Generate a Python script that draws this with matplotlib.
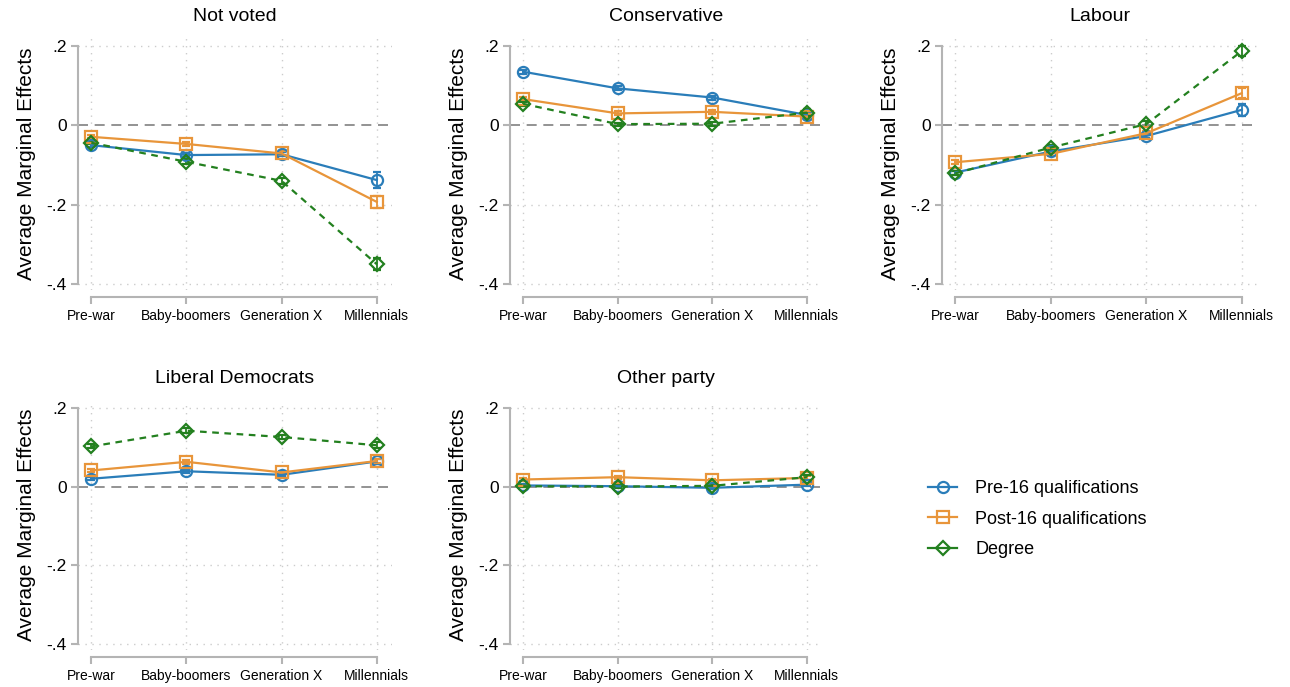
import matplotlib
matplotlib.use("Agg")
import matplotlib.pyplot as plt
from matplotlib.lines import Line2D
import numpy as np

plt.rcParams["font.family"] = ["Liberation Sans", "DejaVu Sans"]

COHORTS = ["Pre-war", "Baby-boomers", "Generation X", "Millennials"]
GROUPS = ["Pre-16 qualifications", "Post-16 qualifications", "Degree"]
PANELS = ["Not voted", "Conservative", "Labour", "Liberal Democrats", "Other party"]

# average marginal effects per panel: [pre-16, post-16, degree], each over cohorts
not_voted = [[-0.050, -0.075, -0.073, -0.138],
             [-0.029, -0.047, -0.071, -0.193],
             [-0.044, -0.092, -0.140, -0.350]]
conservative = [[0.135, 0.093, 0.070, 0.026],
                [0.066, 0.030, 0.034, 0.022],
                [0.054, 0.003, 0.004, 0.032]]
labour = [[-0.119, -0.066, -0.027, 0.039],
          [-0.093, -0.072, -0.020, 0.081],
          [-0.121, -0.056, 0.003, 0.187]]
lib_dems = [[0.020, 0.039, 0.030, 0.064],
            [0.041, 0.063, 0.036, 0.065],
            [0.102, 0.142, 0.126, 0.105]]
other_party = [[0.003, 0.001, -0.003, 0.005],
               [0.018, 0.024, 0.016, 0.022],
               [0.001, 0.000, 0.002, 0.024]]

# half-widths of the confidence intervals
not_voted_ci = [[0.005, 0.005, 0.005, 0.020],
                [0.004, 0.005, 0.005, 0.015],
                [0.004, 0.006, 0.008, 0.015]]
conservative_ci = [[0.005, 0.005, 0.005, 0.006],
                   [0.005, 0.005, 0.005, 0.006],
                   [0.005, 0.004, 0.005, 0.008]]
labour_ci = [[0.005, 0.005, 0.005, 0.015],
             [0.005, 0.005, 0.005, 0.012],
             [0.005, 0.006, 0.008, 0.012]]
lib_dems_ci = [[0.004, 0.004, 0.004, 0.006],
               [0.004, 0.005, 0.004, 0.006],
               [0.005, 0.006, 0.006, 0.008]]
other_ci = [[0.003, 0.003, 0.003, 0.004],
            [0.003, 0.004, 0.003, 0.004],
            [0.003, 0.003, 0.004, 0.006]]

panel_data = [not_voted, conservative, labour, lib_dems, other_party]
panel_ci = [not_voted_ci, conservative_ci, labour_ci, lib_dems_ci, other_ci]

COLORS = ["#2a7db9", "#e8953a", "#23801f"]
MARKERS = ["o", "s", "D"]
LSTYLES = ["-", "-", (0, (3, 2.5))]
MSIZES = [8, 8, 7.5]

W, H = 1290, 687
fig = plt.figure(figsize=(W / 100, H / 100), dpi=100)

# axes boxes in pixels: left, top, right, bottom
boxes = [(78, 38, 392, 290), (510, 38, 822, 290), (942, 38, 1257, 290),
         (78, 400, 392, 650), (510, 400, 822, 650)]

x = np.arange(len(COHORTS))
for i, name in enumerate(PANELS):
    l, t, r, b = boxes[i]
    ax = fig.add_axes([l / W, 1 - b / H, (r - l) / W, (b - t) / H])
    ax.set_xlim(-0.14, 3.16)
    ax.set_ylim(-0.415, 0.22)

    for xx in x:
        ax.axvline(xx, color="#cccccc", lw=1, ls=(0, (1, 4)), zorder=0)
    for yy in [0.2, -0.2, -0.4]:
        ax.axhline(yy, color="#cccccc", lw=1, ls=(0, (1, 4)), zorder=0)
    ax.axhline(0, color="#808080", lw=1.2, ls=(0, (6, 4)), zorder=1)

    for g in range(3):
        ax.errorbar(x, panel_data[i][g], yerr=panel_ci[i][g], color=COLORS[g],
                    marker=MARKERS[g], ms=MSIZES[g], mfc="none", mew=1.6,
                    ls=LSTYLES[g], lw=1.6, capsize=3, elinewidth=1.3,
                    capthick=1.3, zorder=3)

    ax.set_title(name, fontsize=14, pad=12)
    ax.set_ylabel("Average Marginal Effects", fontsize=15, labelpad=8)
    ax.set_yticks([0.2, 0, -0.2, -0.4])
    ax.set_yticklabels([".2", "0", "-.2", "-.4"], fontsize=12.5)
    ax.set_xticks(x)
    ax.set_xticklabels(COHORTS, fontsize=9)

    for s in ["top", "right"]:
        ax.spines[s].set_visible(False)
    ax.spines["left"].set_bounds(-0.4, 0.2)
    ax.spines["bottom"].set_bounds(0, 3)
    ax.spines["bottom"].set_position(("outward", 5))
    for s in ["left", "bottom"]:
        ax.spines[s].set_color("#b4b4b4")
        ax.spines[s].set_linewidth(1.5)
    ax.tick_params(axis="both", color="#b4b4b4", width=1.5, length=5)
    ax.tick_params(axis="y", pad=3)
    ax.tick_params(axis="x", pad=4)

handles = [Line2D([], [], color=COLORS[g], marker=MARKERS[g], ms=MSIZES[g],
                  mfc="none", mew=1.6, lw=1.6, ls="-") for g in range(3)]
fig.legend(handles=handles, labels=GROUPS, loc="center left",
           bbox_to_anchor=(912 / W, 1 - 519 / H), frameon=False, fontsize=13,
           handlelength=1.6, labelspacing=0.75, handletextpad=1.0)

fig.savefig("out.png", dpi=100)
